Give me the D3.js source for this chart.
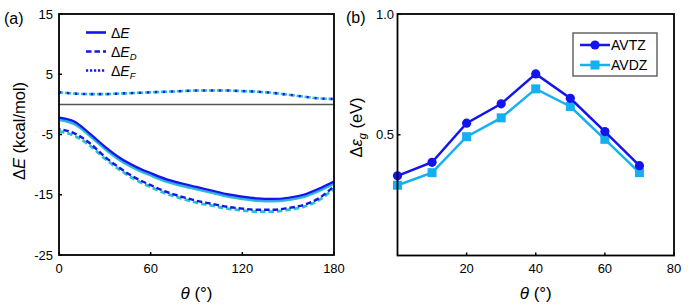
<!DOCTYPE html>
<html><head><meta charset="utf-8">
<script src="https://cdn.jsdelivr.net/npm/d3@7"></script>
<style>
body{margin:0;background:#fff;}
text{font-family:"Liberation Sans",Arial,sans-serif;}
</style></head><body>
<svg id="c" width="692" height="308"></svg>
<script>
// ---------- Panel (a) data ----------
const thetaA = [0,10,20,30,40,50,60,70,80,90,100,110,120,130,140,150,160,170,180];
const dE_blue = [-2.2,-2.85,-4.8,-7.0,-8.9,-10.3,-11.4,-12.4,-13.1,-13.7,-14.3,-14.9,-15.3,-15.6,-15.7,-15.5,-15.0,-14.0,-12.8];
const dE_mid  = [-2.4,-3.1,-5.0,-7.2,-9.1,-10.5,-11.6,-12.6,-13.3,-13.9,-14.5,-15.1,-15.5,-15.8,-15.9,-15.7,-15.2,-14.2,-13.0];
const dE_teal = [-2.6,-3.3,-5.2,-7.4,-9.3,-10.7,-11.8,-12.8,-13.5,-14.1,-14.7,-15.3,-15.7,-16.0,-16.1,-15.9,-15.4,-14.4,-13.2];
const dED_blue = [-4.1,-4.8,-6.4,-8.7,-10.6,-12.2,-13.4,-14.5,-15.3,-16.0,-16.5,-17.0,-17.3,-17.5,-17.5,-17.2,-16.7,-15.6,-13.6];
const dED_teal = [-4.5,-5.2,-6.8,-9.0,-10.9,-12.5,-13.7,-14.8,-15.6,-16.3,-16.8,-17.3,-17.6,-17.8,-17.8,-17.5,-17.0,-15.9,-14.0];
const dEF_blue = [2.0,1.8,1.7,1.7,1.8,1.9,2.0,2.1,2.2,2.3,2.3,2.3,2.2,2.1,1.9,1.6,1.3,1.0,0.9];
const dEF_teal = [2.0,1.8,1.7,1.7,1.8,1.9,2.0,2.1,2.2,2.3,2.3,2.3,2.2,2.1,1.9,1.6,1.3,1.0,0.9];
const yTicksA = [15,5,-5,-15,-25];
const xTicksA = [0,60,120,180];

// ---------- Panel (b) data ----------
const thetaB = [0,10,20,30,40,50,60,70];
const avtz = [0.330,0.386,0.548,0.628,0.752,0.651,0.513,0.372];
const avdz = [0.291,0.343,0.492,0.570,0.690,0.617,0.481,0.343];
const yTicksB = [0.5,1.0];
const xTicksB = [20,40,60,80];

const BLUE = "#1414ec", MID = "#3a9ef0", TEAL = "#28c4cc", AVDZC = "#14b0f0";
const svg = d3.select("#c");

// ===== Panel A =====
const xa = d3.scaleLinear().domain([0,180]).range([59,334]);
const ya = d3.scaleLinear().domain([-25,15]).range([255,14]);
const ga = svg.append("g");
ga.append("line").attr("x1",xa(0)).attr("x2",xa(180)).attr("y1",ya(0)).attr("y2",ya(0))
  .attr("stroke","#555").attr("stroke-width",1.5);
const lineA = d3.line().x((d,i)=>xa(thetaA[i])).y(d=>ya(d)).curve(d3.curveMonotoneX);
const seriesA = [
  {v:dEF_teal,c:TEAL,da:"2.2 1.8",off:2,w:2.6},
  {v:dEF_blue,c:BLUE,da:"2.2 5.8",off:0,w:2.6},
  {v:dED_teal,c:TEAL,da:"5.5 3",off:0,w:2.8},
  {v:dED_blue,c:BLUE,da:"5.5 3",off:4,w:2.4},
  {v:dE_teal,c:TEAL,da:null,w:2.4},
  {v:dE_mid,c:MID,da:null,w:2.2},
  {v:dE_blue,c:BLUE,da:null,w:2.2}
];
seriesA.forEach(s=>{
  const p = ga.append("path").attr("d",lineA(s.v)).attr("fill","none")
    .attr("stroke",s.c).attr("stroke-width",s.w);
  if(s.da){p.attr("stroke-dasharray",s.da).attr("stroke-dashoffset",s.off);}
});
// frame
ga.append("rect").attr("x",59).attr("y",14).attr("width",275).attr("height",241)
  .attr("fill","none").attr("stroke","#000").attr("stroke-width",1.8);
// ticks
ga.selectAll(".yt").data(yTicksA).enter().append("line")
  .attr("x1",59).attr("x2",62).attr("y1",d=>ya(d)).attr("y2",d=>ya(d)).attr("stroke","#000").attr("stroke-width",1.5);
ga.selectAll(".xt").data(xTicksA).enter().append("line")
  .attr("x1",d=>xa(d)).attr("x2",d=>xa(d)).attr("y1",255).attr("y2",252).attr("stroke","#000").attr("stroke-width",1.5);
ga.selectAll(".yl").data(yTicksA).enter().append("text")
  .attr("x",53).attr("y",d=>ya(d)+4.5).attr("text-anchor","end").attr("font-size",13).text(d=>d);
ga.selectAll(".xl").data(xTicksA).enter().append("text")
  .attr("x",d=>xa(d)).attr("y",273).attr("text-anchor","middle").attr("font-size",13).text(d=>d);
// titles
const xtA = ga.append("text").attr("x",xa(90)).attr("y",299).attr("text-anchor","middle").attr("font-size",17);
xtA.append("tspan").attr("font-style","italic").text("θ");
xtA.append("tspan").text(" (°)");
const ytA = ga.append("text").attr("transform","translate(25,131) rotate(-90)").attr("text-anchor","middle").attr("font-size",16.5);
ytA.append("tspan").text("Δ");
ytA.append("tspan").attr("font-style","italic").text("E");
ytA.append("tspan").text(" (kcal/mol)");
ga.append("text").attr("x",4).attr("y",24).attr("font-size",16).text("(a)");
// legend A
const legA = [{da:null,sub:""},{da:"5.5 3",sub:"D"},{da:"2.2 1.8",sub:"F"}];
legA.forEach((l,i)=>{
  const y = 32.5 + i*19;
  const ln = ga.append("line").attr("x1",86).attr("x2",106).attr("y1",y).attr("y2",y)
    .attr("stroke",BLUE).attr("stroke-width",2.6);
  if(l.da) ln.attr("stroke-dasharray",l.da);
  const t = ga.append("text").attr("x",111).attr("y",y+5).attr("font-size",14);
  t.append("tspan").text("Δ");
  t.append("tspan").attr("font-style","italic").text("E");
  if(l.sub) t.append("tspan").attr("font-style","italic").attr("font-size",9.5).attr("dy",3).text(l.sub);
});

// ===== Panel B =====
const xb = d3.scaleLinear().domain([0,80]).range([397.5,674]);
const yb = d3.scaleLinear().domain([0,1]).range([255.5,14]);
const gb = svg.append("g");
const lineB = d3.line().x((d,i)=>xb(thetaB[i])).y(d=>yb(d));
gb.append("path").attr("d",lineB(avdz)).attr("fill","none").attr("stroke",AVDZC).attr("stroke-width",2.5);
gb.selectAll(".sq").data(avdz).enter().append("rect")
  .attr("x",(d,i)=>xb(thetaB[i])-4.5).attr("y",d=>yb(d)-4.5).attr("width",9).attr("height",9).attr("fill",AVDZC);
gb.append("path").attr("d",lineB(avtz)).attr("fill","none").attr("stroke",BLUE).attr("stroke-width",2.5);
gb.selectAll(".ci").data(avtz).enter().append("circle")
  .attr("cx",(d,i)=>xb(thetaB[i])).attr("cy",d=>yb(d)).attr("r",4.6).attr("fill",BLUE);
gb.append("rect").attr("x",397.5).attr("y",14).attr("width",276.5).attr("height",241.5)
  .attr("fill","none").attr("stroke","#000").attr("stroke-width",1.8);
gb.selectAll(".yt").data(yTicksB).enter().append("line")
  .attr("x1",397.5).attr("x2",400.5).attr("y1",d=>yb(d)).attr("y2",d=>yb(d)).attr("stroke","#000").attr("stroke-width",1.5);
gb.selectAll(".xt").data(xTicksB).enter().append("line")
  .attr("x1",d=>xb(d)).attr("x2",d=>xb(d)).attr("y1",255.5).attr("y2",252.5).attr("stroke","#000").attr("stroke-width",1.5);
gb.selectAll(".yl").data(yTicksB).enter().append("text")
  .attr("x",394).attr("y",d=>yb(d)+4.5).attr("text-anchor","end").attr("font-size",13).text(d=>d.toFixed(1));
gb.selectAll(".xl").data(xTicksB).enter().append("text")
  .attr("x",d=>xb(d)).attr("y",273).attr("text-anchor","middle").attr("font-size",13).text(d=>d);
const xtB = gb.append("text").attr("x",xb(40)).attr("y",299).attr("text-anchor","middle").attr("font-size",17);
xtB.append("tspan").attr("font-style","italic").text("θ");
xtB.append("tspan").text(" (°)");
const ytB = gb.append("text").attr("transform","translate(362,"+yb(0.53)+") rotate(-90)").attr("text-anchor","middle").attr("font-size",16.5);
ytB.append("tspan").text("Δ");
ytB.append("tspan").attr("font-style","italic").text("ε");
ytB.append("tspan").attr("font-style","italic").attr("font-size",11).attr("dy",4).text("g");
ytB.append("tspan").attr("dy",-4).text(" (eV)");
gb.append("text").attr("x",346).attr("y",23).attr("font-size",16).text("(b)");
// legend B
gb.append("rect").attr("x",573).attr("y",33).attr("width",84).attr("height",43)
  .attr("fill","#fff").attr("stroke","#666").attr("stroke-width",1.5);
const legB = [{lab:"AVTZ",c:BLUE,m:"c"},{lab:"AVDZ",c:AVDZC,m:"s"}];
legB.forEach((l,i)=>{
  const y = 45 + i*20;
  gb.append("line").attr("x1",580).attr("x2",610).attr("y1",y).attr("y2",y).attr("stroke",l.c).attr("stroke-width",2.5);
  if(l.m==="c") gb.append("circle").attr("cx",595).attr("cy",y).attr("r",4.6).attr("fill",l.c);
  else gb.append("rect").attr("x",590.5).attr("y",y-4.5).attr("width",9).attr("height",9).attr("fill",l.c);
  gb.append("text").attr("x",611).attr("y",y+5).attr("font-size",14).text(l.lab);
});
</script>
</body></html>
